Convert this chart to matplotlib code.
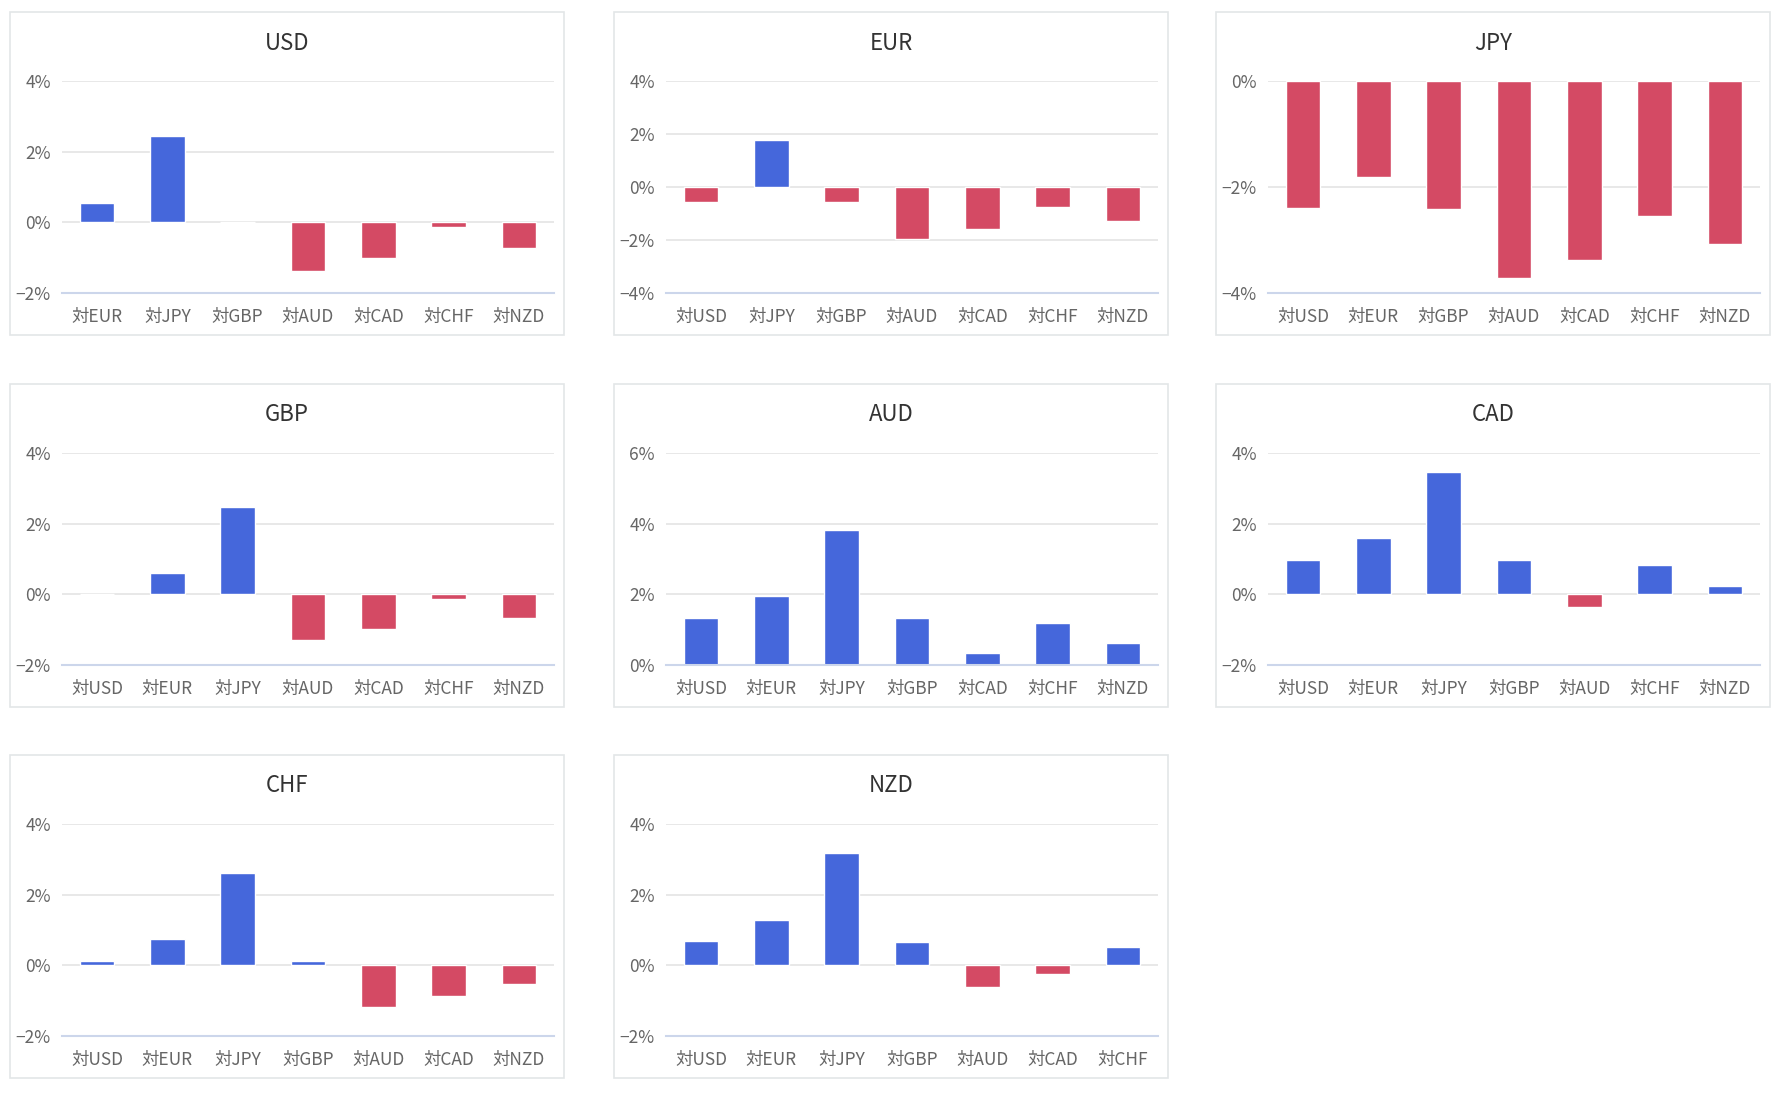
import matplotlib
matplotlib.use("Agg")
import matplotlib.pyplot as plt
from matplotlib.patches import Rectangle

plt.rcParams['font.family'] = ['Noto Sans CJK JP', 'DejaVu Sans']

# 各通貨の対主要通貨騰落率 (%)
usd_pairs = ["EUR", "JPY", "GBP", "AUD", "CAD", "CHF", "NZD"]
usd_vals = [0.56, 2.44, 0.0, -1.37, -1.00, -0.13, -0.74]

eur_pairs = ["USD", "JPY", "GBP", "AUD", "CAD", "CHF", "NZD"]
eur_vals = [-0.56, 1.76, -0.56, -1.95, -1.60, -0.75, -1.29]

jpy_pairs = ["USD", "EUR", "GBP", "AUD", "CAD", "CHF", "NZD"]
jpy_vals = [-2.39, -1.82, -2.42, -3.71, -3.38, -2.54, -3.08]

gbp_pairs = ["USD", "EUR", "JPY", "AUD", "CAD", "CHF", "NZD"]
gbp_vals = [0.0, 0.60, 2.46, -1.29, -0.98, -0.12, -0.66]

aud_pairs = ["USD", "EUR", "JPY", "GBP", "CAD", "CHF", "NZD"]
aud_vals = [1.33, 1.96, 3.82, 1.33, 0.34, 1.20, 0.61]

cad_pairs = ["USD", "EUR", "JPY", "GBP", "AUD", "CHF", "NZD"]
cad_vals = [0.96, 1.60, 3.46, 0.96, -0.35, 0.83, 0.24]

chf_pairs = ["USD", "EUR", "JPY", "GBP", "AUD", "CAD", "NZD"]
chf_vals = [0.11, 0.75, 2.60, 0.11, -1.17, -0.86, -0.54]

nzd_pairs = ["USD", "EUR", "JPY", "GBP", "AUD", "CAD", "CHF"]
nzd_vals = [0.69, 1.28, 3.18, 0.65, -0.62, -0.25, 0.51]

panels = [
    ("USD", usd_pairs, usd_vals, (-2, 4)),
    ("EUR", eur_pairs, eur_vals, (-4, 4)),
    ("JPY", jpy_pairs, jpy_vals, (-4, 0)),
    ("GBP", gbp_pairs, gbp_vals, (-2, 4)),
    ("AUD", aud_pairs, aud_vals, (0, 6)),
    ("CAD", cad_pairs, cad_vals, (-2, 4)),
    ("CHF", chf_pairs, chf_vals, (-2, 4)),
    ("NZD", nzd_pairs, nzd_vals, (-2, 4)),
]

BLUE = "#4567db"
RED = "#d44a64"

W, H = 1782, 1098
fig = plt.figure(figsize=(W / 100, H / 100), dpi=100)

col_x = [10, 614, 1216]
row_y = [12, 384, 755]
pw, ph = 554, 323

def fx(px):
    return px / W

def fy(py):
    return 1 - py / H

for i, (name, pairs, vals, (lo, hi)) in enumerate(panels):
    px0 = col_x[i % 3]
    py0 = row_y[i // 3]

    # パネル枠
    fig.patches.append(Rectangle((fx(px0), fy(py0 + ph)), pw / W, ph / H,
                                 transform=fig.transFigure, fill=False,
                                 edgecolor="#e3e6e8", linewidth=1.2))

    ax = fig.add_axes([fx(px0 + 52), fy(py0 + 281), 492 / W, 212 / H])
    x = range(len(vals))
    colors = [BLUE if v >= 0 else RED for v in vals]
    ax.bar(x, vals, width=0.49, color=colors, edgecolor="white",
           linewidth=1.0, zorder=3)

    ax.set_xlim(-0.5, len(vals) - 0.5)
    ax.set_ylim(lo, hi)
    ticks = list(range(lo, hi + 1, 2))
    ax.set_yticks(ticks)
    ax.set_yticklabels([f"{t}%".replace("-", "\u2212") for t in ticks])
    ax.set_xticks(list(x))
    ax.set_xticklabels(["対" + p for p in pairs])

    ax.grid(axis="y", color="#e6e6e6", linewidth=1.3, zorder=0)
    for side in ["top", "right", "left"]:
        ax.spines[side].set_visible(False)
    ax.spines["bottom"].set_color("#ccd6eb")
    ax.spines["bottom"].set_linewidth(1.5)
    ax.spines["bottom"].set_zorder(4)
    ax.tick_params(axis="both", length=0, labelsize=12.5, colors="#666666")
    ax.tick_params(axis="y", pad=8)
    ax.tick_params(axis="x", pad=11)

    fig.text(fx(px0 + pw / 2), fy(py0 + 31), name, ha="center", va="center",
             fontsize=16, color="#333333")

fig.savefig("out.png", dpi=100, facecolor="white")
